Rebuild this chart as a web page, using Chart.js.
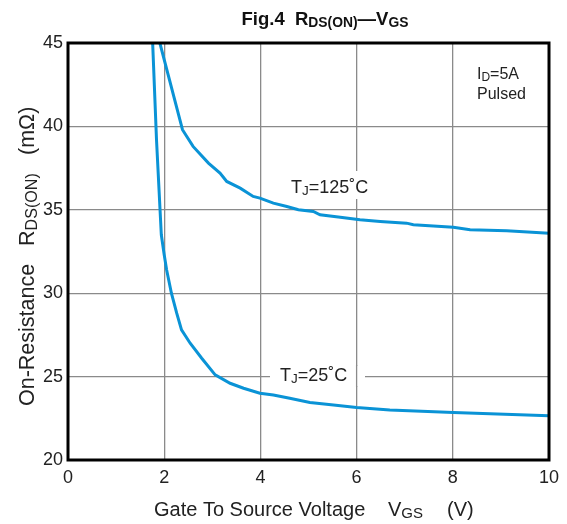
<!DOCTYPE html>
<html>
<head>
<meta charset="utf-8">
<script src="https://cdn.jsdelivr.net/npm/chart.js@4.4.1/dist/chart.umd.min.js"></script>
<style>
html, body { margin: 0; padding: 0; background: #fff; }
#wrap { width: 567px; height: 524px; }
</style>
</head>
<body>
<div id="wrap"><canvas id="chart" width="567" height="524"></canvas></div>
<script>
// axis ticks
const xTicks = [0, 2, 4, 6, 8, 10];
const yTicks = [20, 25, 30, 35, 40, 45];

// Tj = 125°C
const vgs125 = [1.91, 2.38, 2.60, 2.92, 3.16, 3.30, 3.58, 3.85, 3.99, 4.27, 4.55, 4.79, 5.10, 5.24, 5.66, 6.07, 6.49, 7.04, 7.18, 8.01, 8.36, 9.12, 10];
const rds125 = [45, 39.8, 38.8, 37.8, 37.2, 36.7, 36.3, 35.8, 35.7, 35.4, 35.2, 35.0, 34.9, 34.7, 34.55, 34.4, 34.3, 34.2, 34.1, 33.95, 33.8, 33.75, 33.6];

// Tj = 25°C
const vgs25 = [1.76, 1.84, 1.94, 2.00, 2.05, 2.15, 2.26, 2.36, 2.54, 2.78, 3.06, 3.37, 3.65, 3.99, 4.27, 4.61, 5.03, 5.52, 6.00, 6.69, 8.01, 10];
const rds25 = [45, 39.2, 33.5, 32.3, 31.4, 30.0, 28.8, 27.8, 27.0, 26.1, 25.1, 24.6, 24.3, 24.0, 23.9, 23.7, 23.45, 23.3, 23.15, 23.0, 22.85, 22.65];

const FONT = '"Liberation Sans", Arial, Helvetica, sans-serif';
const BLUE = '#0a93d6';
const SUB = 0.75;

function toPoints(xs, ys){
    return xs.map((x, i) => ({x: x, y: ys[i]}));
}

// text with subscripts: parts = [[text, isSub], ...], y is the baseline
function richWidth(ctx, parts, size, bold){
    let w = 0;
    parts.forEach(([t, sub]) => {
        ctx.font = (bold ? 'bold ' : '') + (sub ? size * SUB : size) + 'px ' + FONT;
        w += ctx.measureText(t).width;
    });
    return w;
}

function drawRich(ctx, parts, x, y, size, bold){
    ctx.textAlign = 'left';
    ctx.textBaseline = 'alphabetic';
    let cx = x;
    parts.forEach(([t, sub]) => {
        ctx.font = (bold ? 'bold ' : '') + (sub ? size * SUB : size) + 'px ' + FONT;
        ctx.fillText(t, cx, y + (sub ? size * 0.12 : 0));
        cx += ctx.measureText(t).width;
    });
}

const decorations = {
    id: 'decorations',
    afterDatasetsDraw(chart){
        const ctx = chart.ctx;
        const a = chart.chartArea;
        const xs = chart.scales.x;
        ctx.save();

        // curve labels on white boxes
        ctx.fillStyle = '#fff';
        ctx.fillRect(285, 171, 92, 28);
        ctx.fillRect(270, 366, 95, 20);
        // keep the 6 V grid line through the lower box
        ctx.strokeStyle = '#8a8a8a';
        ctx.lineWidth = 1.3;
        ctx.beginPath();
        ctx.moveTo(xs.getPixelForValue(6), 365);
        ctx.lineTo(xs.getPixelForValue(6), 387);
        ctx.stroke();

        ctx.fillStyle = '#222';
        drawRich(ctx, [['T', false], ['J', true], ['=125˚C', false]], 291, 193, 18, false);
        drawRich(ctx, [['T', false], ['J', true], ['=25˚C', false]], 280, 381, 18, false);

        drawRich(ctx, [['I', false], ['D', true], ['=5A', false]], 477, 79, 16, false);
        drawRich(ctx, [['Pulsed', false]], 477, 99, 16, false);

        // frame
        ctx.strokeStyle = '#000';
        ctx.lineWidth = 3;
        ctx.strokeRect(a.left, a.top, a.right - a.left, a.bottom - a.top);
        ctx.restore();
    },
    afterDraw(chart){
        const ctx = chart.ctx;
        ctx.save();
        ctx.fillStyle = '#111';

        // title
        const title = [['Fig.4  R', false], ['DS(ON)', true], ['—V', false], ['GS', true]];
        const tw = richWidth(ctx, title, 18.5, true);
        drawRich(ctx, title, 325 - tw / 2, 25, 18.5, true);

        // x axis title
        ctx.fillStyle = '#222';
        drawRich(ctx, [['Gate To Source Voltage', false]], 154, 516, 20, false);
        drawRich(ctx, [['V', false], ['GS', true]], 388, 516, 20, false);
        drawRich(ctx, [['(V)', false]], 447, 516, 20, false);

        // y axis title
        ctx.translate(34, 406);
        ctx.rotate(-Math.PI / 2);
        drawRich(ctx, [['On-Resistance', false]], 0, 0, 21.5, false);
        drawRich(ctx, [['R', false], ['DS(ON)', true]], 160, 0, 21.5, false);
        drawRich(ctx, [['(mΩ)', false]], 251, 0, 21.5, false);
        ctx.restore();
    }
};

new Chart(document.getElementById('chart'), {
    type: 'scatter',
    data: {
        datasets: [
            {
                label: 'Tj=125°C',
                data: toPoints(vgs125, rds125),
                showLine: true,
                borderColor: BLUE,
                borderWidth: 3,
                pointRadius: 0,
                tension: 0
            },
            {
                label: 'Tj=25°C',
                data: toPoints(vgs25, rds25),
                showLine: true,
                borderColor: BLUE,
                borderWidth: 3,
                pointRadius: 0,
                tension: 0
            }
        ]
    },
    options: {
        responsive: false,
        animation: false,
        devicePixelRatio: 1,
        layout: { padding: { top: 43, right: 18, bottom: 0, left: 0 } },
        plugins: {
            legend: { display: false },
            tooltip: { enabled: false }
        },
        scales: {
            x: {
                type: 'linear',
                min: 0,
                max: 10,
                afterBuildTicks: s => { s.ticks = xTicks.map(v => ({value: v})); },
                afterFit: s => { s.height = 64; },
                ticks: { color: '#222', font: { family: FONT, size: 18 }, padding: 7 },
                grid: { color: '#8a8a8a', lineWidth: 1.3, drawTicks: false },
                border: { display: false }
            },
            y: {
                type: 'linear',
                min: 20,
                max: 45,
                afterBuildTicks: s => { s.ticks = yTicks.map(v => ({value: v})); },
                afterFit: s => { s.width = 68; },
                ticks: { color: '#222', font: { family: FONT, size: 18 }, padding: 5 },
                grid: { color: '#8a8a8a', lineWidth: 1.3, drawTicks: false },
                border: { display: false }
            }
        }
    },
    plugins: [decorations]
});
</script>
</body>
</html>
